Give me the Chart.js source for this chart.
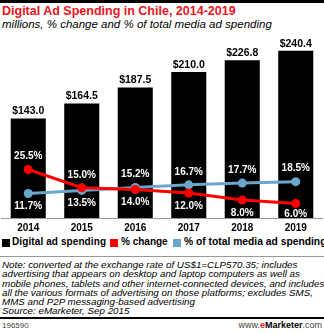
<!DOCTYPE html>
<html><head><meta charset="utf-8">
<script src="https://cdn.jsdelivr.net/npm/chart.js@4"></script>
<style>
html,body{margin:0;padding:0;background:#fff;overflow:hidden;}
body{width:324px;height:333px;position:relative;font-family:"Liberation Sans",Arial,sans-serif;}
#topbar{position:absolute;left:0;top:0;width:324px;height:3px;background:#000;}
#title{position:absolute;left:2px;top:4px;font-weight:bold;font-size:12.5px;color:#e8141d;white-space:nowrap;}
#subtitle{position:absolute;left:2px;top:18px;font-style:italic;font-size:11.5px;color:#000;white-space:nowrap;}
#wrap{position:absolute;left:-3px;top:34px;width:330px;height:200px;}
.sw{position:absolute;top:239px;width:8px;height:8px;}
.lt{position:absolute;top:236px;font-size:10px;font-weight:bold;white-space:nowrap;}
#sep{position:absolute;left:0;top:256px;width:324px;height:1px;background:#999;}
#notes{position:absolute;left:2px;top:260px;font-style:italic;font-size:9.8px;line-height:9.3px;white-space:nowrap;color:#000;}
#bot{position:absolute;left:0;top:317px;width:324px;height:2px;background:#000;}
#id{position:absolute;left:2px;top:321px;font-size:8px;color:#444;}
#brand{position:absolute;right:2px;top:320px;font-size:9px;color:#444;}
#brand b{color:#000;}
#brand b i{color:#e8141d;font-style:normal;}
</style></head>
<body>
<div id="topbar"></div>
<div id="title">Digital Ad Spending in Chile, 2014-2019</div>
<div id="subtitle">millions, % change and % of total media ad spending</div>
<div id="wrap"><canvas id="c"></canvas></div>
<div class="sw" style="left:2px;background:#000"></div><div class="lt" style="left:12px;letter-spacing:0.1px">Digital ad spending</div>
<div class="sw" style="left:110px;background:#ff0000"></div><div class="lt" style="left:121px">% change</div>
<div class="sw" style="left:173px;background:#6aa7cb"></div><div class="lt" style="left:184px;font-size:10.3px">% of total media ad spending</div>
<div id="sep"></div>
<div id="notes">Note: converted at the exchange rate of US$1=CLP570.35; includes<br>advertising that appears on desktop and laptop computers as well as<br>mobile phones, tablets and other internet-connected devices, and includes<br>all the various formats of advertising on those platforms; excludes SMS,<br>MMS and P2P messaging-based advertising<br>Source: eMarketer, Sep 2015</div>
<div id="bot"></div>
<div id="id">196590</div>
<div id="brand">www.<b><i>e</i>Marketer</b>.com</div>
<script>
const years = ["2014","2015","2016","2017","2018","2019"];
const spending = [143.0,164.5,187.5,210.0,226.8,240.4];
const pctChange = [25.5,15.0,14.0,12.0,8.0,6.0];
const pctTotal = [11.7,13.5,15.2,16.7,17.7,18.5];

const FONT = '"Liberation Sans", Arial, sans-serif';

const labelPlugin = {
  id:'labels',
  afterDatasetsDraw(chart){
    const ctx = chart.ctx;
    const bars = chart.getDatasetMeta(0).data;
    const red = chart.getDatasetMeta(1).data;
    const blue = chart.getDatasetMeta(2).data;
    ctx.save();
    ctx.textAlign='center';
    ctx.textBaseline='middle';
    ctx.font = 'bold 10.5px '+FONT;
    ctx.fillStyle='#000';
    bars.forEach((b,i)=>{
      ctx.fillText('$'+spending[i].toFixed(1), b.x, b.y-7);
    });
    ctx.font = 'bold 10px '+FONT;
    ctx.fillStyle='#fff';
    const bottom = chart.chartArea.bottom;
    years.forEach((y,i)=>{
      const r = red[i], bl = blue[i];
      const redAbove = r.y <= bl.y;
      const top = Math.min(r.y, bl.y), low = Math.max(r.y, bl.y);
      const aboveTxt = (redAbove ? pctChange[i] : pctTotal[i]).toFixed(1)+'%';
      const belowTxt = (redAbove ? pctTotal[i] : pctChange[i]).toFixed(1)+'%';
      ctx.fillText(aboveTxt, r.x, top-13);
      ctx.fillText(belowTxt, r.x, Math.min(low+13, bottom-4));
    });
    ctx.restore();
  }
};

new Chart(document.getElementById('c'), {
  type:'bar',
  data:{
    labels: years,
    datasets:[
      {type:'bar', label:'Digital ad spending', data:spending, backgroundColor:'#000', yAxisID:'y', order:3,
       barPercentage:0.655, categoryPercentage:1},
      {type:'line', label:'% change', data:pctChange, borderColor:'#ff0000', backgroundColor:'#ff0000',
       borderWidth:3, pointRadius:4.5, pointBackgroundColor:'#ff0000', pointBorderWidth:0, yAxisID:'y2', order:1, tension:0},
      {type:'line', label:'% of total media ad spending', data:pctTotal, borderColor:'#6aa7cb', backgroundColor:'#6aa7cb',
       borderWidth:3, pointRadius:4.5, pointBackgroundColor:'#6aa7cb', pointBorderWidth:0, yAxisID:'y2', order:2, tension:0}
    ]
  },
  options:{
    responsive:true, maintainAspectRatio:false, animation:false,
    layout:{padding:0},
    plugins:{legend:{display:false}, tooltip:{enabled:false}},
    scales:{
      x:{grid:{display:false, drawTicks:false}, border:{display:true,color:'#999',width:1},
         ticks:{color:'#000', padding:4, font:{family:FONT, size:10, weight:'bold'}},
         afterFit(s){ s.height = 16; }},
      y:{display:false, min:0, max:258},
      y2:{display:false, min:-2.3, max:100.5}
    }
  },
  plugins:[labelPlugin]
});
</script>
</body></html>
